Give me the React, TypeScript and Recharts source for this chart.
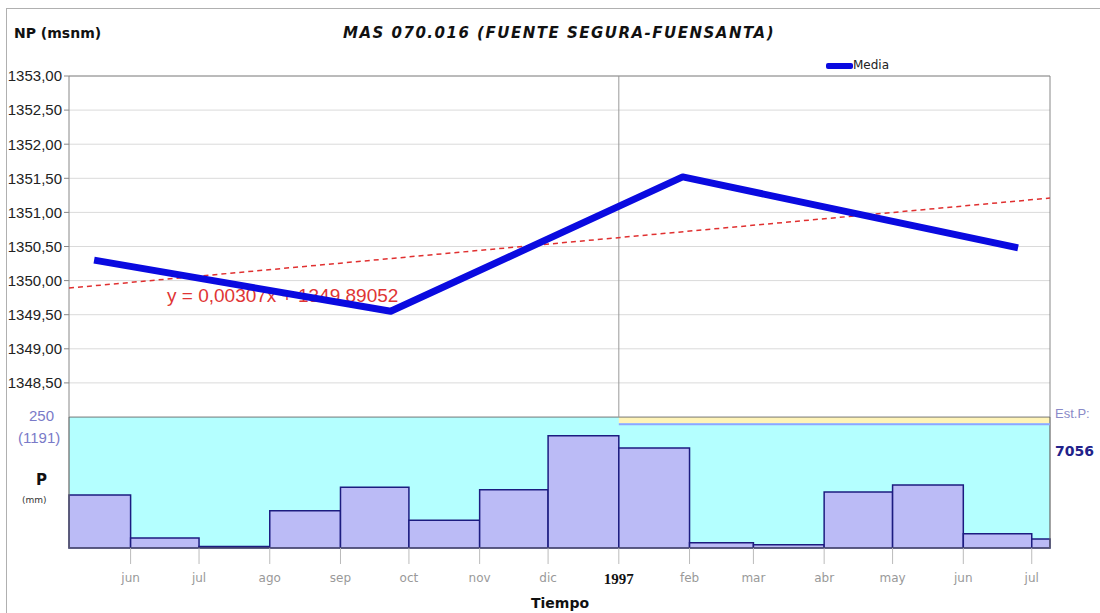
import { CartesianGrid, ComposedChart, Line, ReferenceArea, ReferenceLine, XAxis, YAxis } from 'recharts'

// time axis in days since the first day of the plot
const START = '1996-05-05'
const END = '1997-07-09'
const day = (d: string) => (Date.parse(d) - Date.parse(START)) / 86400000

const mediaDates = ['1996-05-16', '1996-09-23', '1997-01-29', '1997-06-25']
const mediaValues = [1350.3, 1349.55, 1351.52, 1350.48]

const monthStarts = [
  '1996-06-01', '1996-07-01', '1996-08-01', '1996-09-01', '1996-10-01', '1996-11-01', '1996-12-01',
  '1997-01-01', '1997-02-01', '1997-03-01', '1997-04-01', '1997-05-01', '1997-06-01', '1997-07-01',
]
const monthLabels = ['jun', 'jul', 'ago', 'sep', 'oct', 'nov', 'dic', '1997', 'feb', 'mar', 'abr', 'may', 'jun', 'jul']

// monthly precipitation (mm), first one is the partial May 1996
const precipFrom = [START, ...monthStarts]
const precipTo = [...monthStarts, END]
const precipValues = [101, 19, 3, 71, 116, 53, 111, 214, 191, 10, 6, 107, 120, 27, 17]

const levelTicks = [1348.5, 1349, 1349.5, 1350, 1350.5, 1351, 1351.5, 1352, 1352.5, 1353]
const trendSlope = 0.00307
const trendIntercept = 1349.89052

const yearStripFrom = '1997-01-01'
const yearStripLevel = 236

const dEnd = day(END)
const xTicks = monthStarts.map(day)
const mediaData = mediaDates.map((d, i) => ({ day: day(d), value: mediaValues[i] }))
const trendData = [0, dEnd].map((x) => ({ day: x, value: trendIntercept + trendSlope * x }))
const precipData = precipFrom.map((d, i) => ({ day: day(d), value: precipValues[i] }))

const tickLabel = (v: number) => monthLabels[xTicks.indexOf(v)] ?? ''

function MonthTick(props: any) {
  const { x, y, payload } = props
  const label = tickLabel(payload.value)
  if (label === '1997') {
    return (
      <text x={x} y={y + 18} textAnchor="middle" fontFamily="Liberation Serif" fontWeight="bold" fontSize={15} fill="#111">
        {label}
      </text>
    )
  }
  return (
    <text x={x} y={y + 16} textAnchor="middle" fontFamily="DejaVu Sans" fontSize={12} fill="#999">
      {label}
    </text>
  )
}

const abs = (left: number, top: number, extra: any = {}) => ({ position: 'absolute' as const, left, top, whiteSpace: 'nowrap' as const, ...extra })

export default function App() {
  return (
    <div style={{ position: 'absolute', left: 0, top: 0, width: 1100, height: 613, background: '#fff', overflow: 'hidden', fontFamily: 'DejaVu Sans' }}>
      <div style={abs(6, 8, { width: 1100, height: 620, border: '1px solid #b0b0b0' })} />
      <div style={abs(14, 25, { fontWeight: 'bold', fontSize: 14, color: '#111' })}>NP (msnm)</div>
      <div style={abs(343, 24, { fontWeight: 'bold', fontSize: 15, fontStyle: 'italic', letterSpacing: 1.5, color: '#111' })}>
        MAS 070.016 (FUENTE SEGURA-FUENSANTA)
      </div>
      <div style={abs(826, 63, { width: 27, height: 6, background: '#0a0ae0', borderRadius: 2 })} />
      <div style={abs(853, 58, { fontSize: 12, color: '#222' })}>Media</div>
      <div style={abs(167, 285, { fontFamily: 'Liberation Sans', fontSize: 19, color: '#e03535' })}>y = 0,00307x + 1349,89052</div>

      <div style={abs(0, 0)}>
        <ComposedChart width={1100} height={417} margin={{ top: 76, right: 50, bottom: 0, left: 9 }}>
          <CartesianGrid stroke="#dadada" strokeWidth={1} horizontalValues={levelTicks} verticalValues={xTicks} />
          <XAxis dataKey="day" type="number" domain={[0, dEnd]} ticks={xTicks} height={0} tick={false} tickLine={false} axisLine={false} allowDataOverflow />
          <YAxis
            type="number"
            domain={[1348, 1353]}
            ticks={levelTicks}
            width={60}
            axisLine={false}
            tickSize={5}
            tickLine={{ stroke: '#888' }}
            tick={{ fontFamily: 'Liberation Sans', fontSize: 15, fill: '#222' }}
            tickFormatter={(v: number) => v.toFixed(2).replace('.', ',')}
            allowDataOverflow
          />
          <ReferenceLine x={day(yearStripFrom)} stroke="#999" strokeWidth={1} />
          <ReferenceArea x1={0} x2={dEnd} y1={1348} y2={1353} fill="none" stroke="#888" strokeWidth={1} />
          <Line data={trendData} dataKey="value" stroke="#e03030" strokeWidth={1.5} strokeDasharray="5 4" dot={false} isAnimationActive={false} />
          <Line data={mediaData} dataKey="value" stroke="#0a0ae0" strokeWidth={7} strokeLinejoin="round" dot={false} isAnimationActive={false} />
        </ComposedChart>
      </div>

      <div style={abs(0, 417)}>
        <ComposedChart width={1100} height={196} margin={{ top: 0, right: 50, bottom: 35, left: 69 }}>
          <XAxis
            dataKey="day"
            type="number"
            domain={[0, dEnd]}
            ticks={xTicks}
            height={30}
            axisLine={false}
            tickSize={16}
            tickLine={{ stroke: '#bbb' }}
            tick={<MonthTick />}
            interval={0}
            allowDataOverflow
          />
          <YAxis type="number" domain={[0, 250]} hide allowDataOverflow />
          <ReferenceArea x1={0} x2={dEnd} y1={0} y2={250} fill="#b4ffff" fillOpacity={1} stroke="none" />
          <ReferenceArea x1={day(yearStripFrom)} x2={dEnd} y1={yearStripLevel + 2} y2={250} fill="#fff4b8" fillOpacity={1} stroke="none" />
          <ReferenceLine
            segment={[{ x: day(yearStripFrom), y: yearStripLevel }, { x: dEnd, y: yearStripLevel }]}
            stroke="#8fa6ff"
            strokeWidth={2}
          />
          {precipValues.map((v, i) => (
            <ReferenceArea
              key={i}
              x1={day(precipFrom[i])}
              x2={day(precipTo[i])}
              y1={0}
              y2={v}
              fill="#bbbbf6"
              fillOpacity={1}
              stroke="#1c1c80"
              strokeWidth={1.5}
            />
          ))}
          <ReferenceArea x1={0} x2={dEnd} y1={0} y2={250} fill="none" stroke="#666" strokeWidth={1.2} />
          <Line data={precipData} dataKey="value" stroke="none" dot={false} isAnimationActive={false} />
        </ComposedChart>
      </div>

      <div style={abs(29, 407, { fontSize: 15, color: '#7a7ac8', fontFamily: 'Liberation Sans' })}>250</div>
      <div style={abs(18, 429, { fontSize: 15, color: '#7a7ac8', fontFamily: 'Liberation Sans' })}>(1191)</div>
      <div style={abs(36, 471, { fontSize: 15, fontWeight: 'bold', color: '#111' })}>P</div>
      <div style={abs(22, 495, { fontSize: 9, color: '#333' })}>(mm)</div>
      <div style={abs(1055, 406, { fontSize: 13, color: '#8a8ac8', fontFamily: 'Liberation Sans' })}>Est.P:</div>
      <div style={abs(1055, 443, { fontSize: 14, fontWeight: 'bold', color: '#22228a' })}>7056</div>
      <div style={abs(531, 595, { fontSize: 14, fontWeight: 'bold', color: '#111' })}>Tiempo</div>
    </div>
  )
}
